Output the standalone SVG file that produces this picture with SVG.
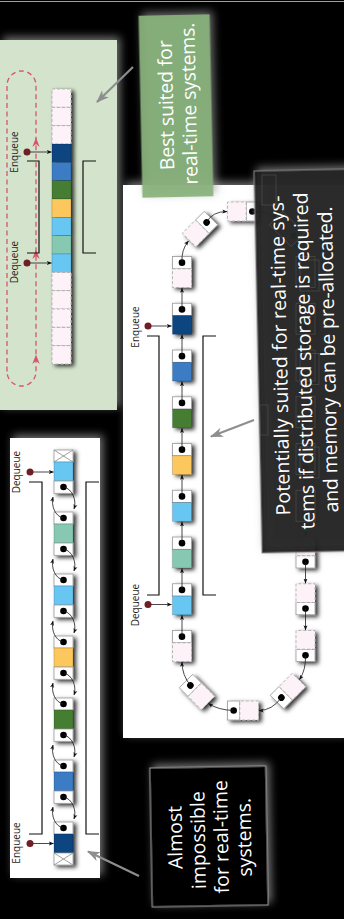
<svg xmlns="http://www.w3.org/2000/svg" xmlns:xlink="http://www.w3.org/1999/xlink" width="344" height="919" viewBox="0 0 344 919">
  <defs>
    <style>
      .lbl { font-family: "Open Sans", "Liberation Sans", sans-serif; font-size: 10px; fill: #1e1e1e; text-anchor: middle; }
      .cl { font-family: "Open Sans", "Liberation Sans", sans-serif; font-size: 19.5px; fill: #ffffff; text-anchor: middle; }
      .ptr { fill: #ffffff; stroke: #9a9a9a; stroke-width: 0.8; }
      .empty { fill: #fdf2f8; stroke: #a6a6a6; stroke-width: 0.8; stroke-dasharray: 3 2; }
      .data { stroke: rgba(0,0,0,0.25); stroke-width: 0.6; }
      .dot { fill: #000; }
      .c-dblue { fill: #0d4480; }
      .c-mblue { fill: #3b7bc4; }
      .c-green { fill: #457d32; }
      .c-yellow { fill: #fcc75c; }
      .c-lblue { fill: #67c6f2; }
      .c-teal { fill: #86c8b1; }
      .link { fill: none; stroke: #1a1a1a; stroke-width: 0.8; marker-end: url(#ah); }
      .bracket { fill: none; stroke: #111; stroke-width: 1.2; }
      .head { fill: #6d1f25; }
      .call { fill: none; stroke: #8e8e8e; stroke-width: 2.2; marker-end: url(#gh); }
      .loop { fill: none; stroke: #d4566c; stroke-width: 1.3; stroke-dasharray: 5 3.5; }
      .ghost { fill: none; stroke: #6c6c6c; stroke-width: 0.7; opacity: 0.55; }
    </style>
    <filter id="halo" x="-30%" y="-30%" width="160%" height="160%">
      <feGaussianBlur in="SourceAlpha" stdDeviation="4" result="b"/>
      <feOffset in="b" dx="3" dy="-3" result="o"/>
      <feFlood flood-color="#9a9a9a" flood-opacity="0.75"/>
      <feComposite in2="o" operator="in" result="g"/>
      <feMerge><feMergeNode in="g"/><feMergeNode in="SourceGraphic"/></feMerge>
    </filter>
    <filter id="shade" x="-60%" y="-60%" width="220%" height="220%">
      <feDropShadow dx="3" dy="2" stdDeviation="2" flood-color="#000" flood-opacity="0.8"/>
    </filter>
    <filter id="soft" x="-20%" y="-20%" width="140%" height="140%">
      <feGaussianBlur stdDeviation="0.4"/>
    </filter>
    <marker id="ah" viewBox="0 0 8 8" refX="7.5" refY="4" markerWidth="5" markerHeight="5" orient="auto" markerUnits="userSpaceOnUse">
      <path d="M0,0.8 L8,4 L0,7.2 L2,4 z" fill="#111"/>
    </marker>
    <marker id="gh" viewBox="0 0 12 10" refX="11" refY="5" markerWidth="13" markerHeight="11" orient="auto" markerUnits="userSpaceOnUse">
      <path d="M0,0.5 L12,5 L0,9.5 L3.5,5 z" fill="#8e8e8e"/>
    </marker>
    <!-- one list node: pointer cell on top, payload below, centred on the origin -->
    <g id="n-empty">
      <rect class="ptr" x="-9.5" y="-15.5" width="19" height="12.3"/>
      <rect class="empty" x="-9.5" y="-3.2" width="19" height="18.7"/>
      <circle class="dot" cx="0" cy="-9.35" r="3.3"/>
    </g>
  </defs>

  <!-- backdrop -->
  <rect x="0" y="0" width="344" height="919" fill="#000"/>
  <line x1="0" y1="1.5" x2="344" y2="1.5" stroke="#a0a0a0" stroke-width="1"/>

  <!-- ring buffer panel -->
  <g id="panel-ring">
    <rect x="0" y="40" width="117" height="370" fill="#d4e4cc" filter="url(#halo)"/>
    <path class="loop" d="M7,371.5 L7,85.5 A14.5,14.5 0 0 1 36,85.5 L36,371.5 A14.5,14.5 0 0 1 7,371.5 Z"/>
    <g fill="#d4566c">
      <path d="M32.3,147 L36,137.5 L39.7,147 L36,144 Z"/>
      <path d="M32.3,259 L36,249.5 L39.7,259 L36,256 Z"/>
      <path d="M32.3,364 L36,354.5 L39.7,364 L36,361 Z"/>
    </g>
    <g id="ring-array" filter="url(#shade)">
      <rect class="empty" x="52" y="89" width="19" height="18.33"/>
      <rect class="empty" x="52" y="107.33" width="19" height="18.33"/>
      <rect class="empty" x="52" y="125.67" width="19" height="18.33"/>
      <rect class="data c-dblue" x="52" y="144" width="19" height="18.33"/>
      <rect class="data c-mblue" x="52" y="162.33" width="19" height="18.33"/>
      <rect class="data c-green" x="52" y="180.67" width="19" height="18.33"/>
      <rect class="data c-yellow" x="52" y="199" width="19" height="18.33"/>
      <rect class="data c-lblue" x="52" y="217.33" width="19" height="18.33"/>
      <rect class="data c-teal" x="52" y="235.67" width="19" height="18.33"/>
      <rect class="data c-lblue" x="52" y="254" width="19" height="18.33"/>
      <rect class="empty" x="52" y="272.33" width="19" height="18.33"/>
      <rect class="empty" x="52" y="290.67" width="19" height="18.33"/>
      <rect class="empty" x="52" y="309" width="19" height="18.33"/>
      <rect class="empty" x="52" y="327.33" width="19" height="18.33"/>
      <rect class="empty" x="52" y="345.67" width="19" height="18.33"/>
    </g>
    <path class="bracket" d="M27,161 H39 V253 H27"/>
    <path class="bracket" d="M96,161 H83 V253 H96"/>
    <g id="ring-enqueue">
      <circle class="head" cx="27" cy="152" r="3.5"/>
      <text class="lbl" transform="translate(18,152) rotate(-90)">Enqueue</text>
    </g>
    <g id="ring-dequeue">
      <circle class="head" cx="27" cy="263" r="3.5"/>
      <text class="lbl" transform="translate(18,262) rotate(-90)">Dequeue</text>
    </g>
  </g>

  <!-- linked ring panel -->
  <g id="panel-linked">
    <rect x="123" y="185" width="221" height="553" fill="#ffffff" filter="url(#halo)"/>
    <path class="bracket" d="M147,336 H159 V595 H147"/>
    <path class="bracket" d="M216,336 H203 V595 H216"/>

    <!-- left column, payload below pointer -->
    <g filter="url(#shade)">
      <g id="l0" transform="translate(182,272)"><use xlink:href="#n-empty"/></g>
      <g id="l1" transform="translate(182,318.75)">
        <rect class="ptr" x="-9.5" y="-15.5" width="19" height="12.3"/>
        <rect class="data c-dblue" x="-9.5" y="-3.2" width="19" height="18.7"/>
        <circle class="dot" cx="0" cy="-9.35" r="3.3"/>
      </g>
      <g id="l2" transform="translate(182,365.5)">
        <rect class="ptr" x="-9.5" y="-15.5" width="19" height="12.3"/>
        <rect class="data c-mblue" x="-9.5" y="-3.2" width="19" height="18.7"/>
        <circle class="dot" cx="0" cy="-9.35" r="3.3"/>
      </g>
      <g id="l3" transform="translate(182,412.25)">
        <rect class="ptr" x="-9.5" y="-15.5" width="19" height="12.3"/>
        <rect class="data c-green" x="-9.5" y="-3.2" width="19" height="18.7"/>
        <circle class="dot" cx="0" cy="-9.35" r="3.3"/>
      </g>
      <g id="l4" transform="translate(182,459)">
        <rect class="ptr" x="-9.5" y="-15.5" width="19" height="12.3"/>
        <rect class="data c-yellow" x="-9.5" y="-3.2" width="19" height="18.7"/>
        <circle class="dot" cx="0" cy="-9.35" r="3.3"/>
      </g>
      <g id="l5" transform="translate(182,505.75)">
        <rect class="ptr" x="-9.5" y="-15.5" width="19" height="12.3"/>
        <rect class="data c-lblue" x="-9.5" y="-3.2" width="19" height="18.7"/>
        <circle class="dot" cx="0" cy="-9.35" r="3.3"/>
      </g>
      <g id="l6" transform="translate(182,552.5)">
        <rect class="ptr" x="-9.5" y="-15.5" width="19" height="12.3"/>
        <rect class="data c-teal" x="-9.5" y="-3.2" width="19" height="18.7"/>
        <circle class="dot" cx="0" cy="-9.35" r="3.3"/>
      </g>
      <g id="l7" transform="translate(182,599.25)">
        <rect class="ptr" x="-9.5" y="-15.5" width="19" height="12.3"/>
        <rect class="data c-lblue" x="-9.5" y="-3.2" width="19" height="18.7"/>
        <circle class="dot" cx="0" cy="-9.35" r="3.3"/>
      </g>
      <g id="l8" transform="translate(182,646)"><use xlink:href="#n-empty"/></g>
    </g>

    <!-- bends and right column -->
    <g filter="url(#shade)">
      <g id="t1" transform="translate(200,229) rotate(45)"><use xlink:href="#n-empty"/></g>
      <g id="t2" transform="translate(243,211.5) rotate(90)"><use xlink:href="#n-empty"/></g>
      <g id="t3" transform="translate(287,229) rotate(135)"><use xlink:href="#n-empty"/></g>
      <g id="r0" transform="translate(305.5,272) rotate(180)"><use xlink:href="#n-empty"/></g>
      <g id="r1" transform="translate(305.5,318.75) rotate(180)"><use xlink:href="#n-empty"/></g>
      <g id="r2" transform="translate(305.5,365.5) rotate(180)"><use xlink:href="#n-empty"/></g>
      <g id="r3" transform="translate(305.5,412.25) rotate(180)"><use xlink:href="#n-empty"/></g>
      <g id="r4" transform="translate(305.5,459) rotate(180)"><use xlink:href="#n-empty"/></g>
      <g id="r5" transform="translate(305.5,505.75) rotate(180)"><use xlink:href="#n-empty"/></g>
      <g id="r6" transform="translate(305.5,552.5) rotate(180)"><use xlink:href="#n-empty"/></g>
      <g id="r7" transform="translate(305.5,599.25) rotate(180)"><use xlink:href="#n-empty"/></g>
      <g id="r8" transform="translate(305.5,646) rotate(180)"><use xlink:href="#n-empty"/></g>
      <g id="b3" transform="translate(288,691) rotate(-135)"><use xlink:href="#n-empty"/></g>
      <g id="b2" transform="translate(243,710.5) rotate(-90)"><use xlink:href="#n-empty"/></g>
      <g id="b1" transform="translate(197,692) rotate(-45)"><use xlink:href="#n-empty"/></g>
    </g>

    <g id="linked-enqueue">
      <circle class="head" cx="148" cy="326" r="3.5"/>
      <text class="lbl" transform="translate(139,327) rotate(-90)">Enqueue</text>
    </g>
    <g id="linked-dequeue">
      <circle class="head" cx="148" cy="604.5" r="3.5"/>
      <text class="lbl" transform="translate(139,605) rotate(-90)">Dequeue</text>
    </g>
  </g>

  <!-- doubly linked list panel -->
  <g id="panel-list">
    <rect x="10" y="438" width="90" height="440" fill="#ffffff" filter="url(#halo)"/>
    <g filter="url(#shade)">
      <g id="end-top">
        <rect class="ptr" x="54" y="450" width="19" height="12"/>
        <path d="M54,450 L73,462 M73,450 L54,462" stroke="#888" stroke-width="0.8"/>
      </g>
      <g id="d0">
        <rect class="data c-lblue" x="54" y="462" width="19" height="19"/>
        <rect class="ptr" x="54" y="481" width="19" height="12.3"/>
        <circle class="dot" cx="63.5" cy="487" r="3.3"/>
      </g>
      <g id="d1">
        <rect class="ptr" x="54" y="512" width="19" height="12"/>
        <circle class="dot" cx="63.5" cy="518" r="3.3"/>
        <rect class="data c-teal" x="54" y="524" width="19" height="19"/>
        <rect class="ptr" x="54" y="543" width="19" height="12.3"/>
        <circle class="dot" cx="63.5" cy="549" r="3.3"/>
      </g>
      <g id="d2">
        <rect class="ptr" x="54" y="574" width="19" height="12"/>
        <circle class="dot" cx="63.5" cy="580" r="3.3"/>
        <rect class="data c-lblue" x="54" y="586" width="19" height="19"/>
        <rect class="ptr" x="54" y="605" width="19" height="12.3"/>
        <circle class="dot" cx="63.5" cy="611" r="3.3"/>
      </g>
      <g id="d3">
        <rect class="ptr" x="54" y="636" width="19" height="12"/>
        <circle class="dot" cx="63.5" cy="642" r="3.3"/>
        <rect class="data c-yellow" x="54" y="648" width="19" height="19"/>
        <rect class="ptr" x="54" y="667" width="19" height="12.3"/>
        <circle class="dot" cx="63.5" cy="673" r="3.3"/>
      </g>
      <g id="d4">
        <rect class="ptr" x="54" y="698" width="19" height="12"/>
        <circle class="dot" cx="63.5" cy="704" r="3.3"/>
        <rect class="data c-green" x="54" y="710" width="19" height="19"/>
        <rect class="ptr" x="54" y="729" width="19" height="12.3"/>
        <circle class="dot" cx="63.5" cy="735" r="3.3"/>
      </g>
      <g id="d5">
        <rect class="ptr" x="54" y="760" width="19" height="12"/>
        <circle class="dot" cx="63.5" cy="766" r="3.3"/>
        <rect class="data c-mblue" x="54" y="772" width="19" height="19"/>
        <rect class="ptr" x="54" y="791" width="19" height="12.3"/>
        <circle class="dot" cx="63.5" cy="797" r="3.3"/>
      </g>
      <g id="d6">
        <rect class="ptr" x="54" y="822" width="19" height="12"/>
        <circle class="dot" cx="63.5" cy="828" r="3.3"/>
        <rect class="data c-dblue" x="54" y="834" width="19" height="19"/>
      </g>
      <g id="end-bottom">
        <rect class="ptr" x="54" y="853" width="19" height="12"/>
        <path d="M54,853 L73,865 M73,853 L54,865" stroke="#888" stroke-width="0.8"/>
      </g>
    </g>
    <path class="bracket" d="M29,482 H42 V834 H29" stroke="#333"/>
    <path class="bracket" d="M99,482 H86 V834 H99"/>
    <g id="list-dequeue">
      <circle class="head" cx="30" cy="472" r="3.5"/>
      <text class="lbl" transform="translate(20,472) rotate(-90)">Dequeue</text>
    </g>
    <g id="list-enqueue">
      <circle class="head" cx="30" cy="843.5" r="3.5"/>
      <text class="lbl" transform="translate(20,843) rotate(-90)">Enqueue</text>
    </g>
  </g>

  <!-- connectors -->
  <g id="connectors">
    <!-- head pointers -->
    <path class="link" d="M30,152 H51.5"/>
    <path class="link" d="M30,263 H51.5"/>
    <path class="link" d="M151,326 H171.5"/>
    <path class="link" d="M151,604.5 H171.5"/>
    <path class="link" d="M33,472 H53.5"/>
    <path class="link" d="M33,843.5 H53.5"/>

    <!-- left column links -->
    <path class="link" d="M182,309.4 V288"/>
    <path class="link" d="M182,356.15 V334.75"/>
    <path class="link" d="M182,402.9 V381.5"/>
    <path class="link" d="M182,449.65 V428.25"/>
    <path class="link" d="M182,496.4 V475"/>
    <path class="link" d="M182,543.15 V521.75"/>
    <path class="link" d="M182,589.9 V568.5"/>
    <path class="link" d="M182,636.65 V615.25"/>
    <!-- top bend -->
    <path class="link" d="M182,262.6 Q181,250 188.5,241"/>
    <path class="link" d="M206.6,222.4 Q212,211.5 227,211.5"/>
    <path class="link" d="M252.4,211.5 Q268,211 276,217.5"/>
    <path class="link" d="M293.6,235.6 Q305.5,240 305.5,256"/>
    <!-- right column links -->
    <path class="link" d="M305.5,281.35 V302.75"/>
    <path class="link" d="M305.5,328.1 V349.5"/>
    <path class="link" d="M305.5,374.85 V396.25"/>
    <path class="link" d="M305.5,421.6 V443"/>
    <path class="link" d="M305.5,468.35 V489.75"/>
    <path class="link" d="M305.5,515.1 V536.5"/>
    <path class="link" d="M305.5,561.85 V583.25"/>
    <path class="link" d="M305.5,608.6 V630"/>
    <!-- bottom bend -->
    <path class="link" d="M305.5,655.4 Q306,670 299.5,679.5"/>
    <path class="link" d="M281.4,697.6 Q272,710.5 259,710.5"/>
    <path class="link" d="M233.6,710.5 Q218,710 208.5,703.5"/>
    <path class="link" d="M190.4,685.4 Q182,675 182,662"/>

    <!-- doubly linked pairs -->
    <path class="link" d="M64,487 C72,489 77,500 74,509"/>
    <path class="link" d="M63,518 C55,516 51,506 53,497"/>
    <path class="link" d="M64,549 C72,551 77,562 74,571"/>
    <path class="link" d="M63,580 C55,578 51,568 53,559"/>
    <path class="link" d="M64,611 C72,613 77,624 74,633"/>
    <path class="link" d="M63,642 C55,640 51,630 53,621"/>
    <path class="link" d="M64,673 C72,675 77,686 74,695"/>
    <path class="link" d="M63,704 C55,702 51,692 53,683"/>
    <path class="link" d="M64,735 C72,737 77,748 74,757"/>
    <path class="link" d="M63,766 C55,764 51,754 53,745"/>
    <path class="link" d="M64,797 C72,799 77,810 74,819"/>
    <path class="link" d="M63,828 C55,826 51,816 53,807"/>
  </g>

  <!-- callouts -->
  <g id="note-best" transform="rotate(-1.2 176 106)">
    <rect x="140.5" y="15" width="71" height="182" fill="rgb(136,178,123)" fill-opacity="0.92" filter="url(#halo)"/>
    <text class="cl" transform="translate(173,105) rotate(-90)" textLength="130">Best suited for</text>
    <text class="cl" transform="translate(196,104) rotate(-90)" textLength="162">real-time systems.</text>
  </g>

  <g id="note-potential" transform="rotate(-1.2 306 361)">
    <rect x="258" y="170" width="96" height="382" fill="#101010" fill-opacity="0.93" stroke="#8a8a8a" stroke-width="1" filter="url(#halo)"/>
  </g>
  <g id="hidden-outlines">
    <rect class="ghost" x="296" y="256.5" width="19" height="31"/>
    <rect class="ghost" x="296" y="303.25" width="19" height="31"/>
    <rect class="ghost" x="296" y="350" width="19" height="31"/>
    <rect class="ghost" x="296" y="396.75" width="19" height="31"/>
    <rect class="ghost" x="296" y="443.5" width="19" height="31"/>
    <rect class="ghost" x="296" y="490.25" width="19" height="31"/>
    <rect class="ghost" x="300" y="260" width="19" height="31"/>
    <rect class="ghost" x="300" y="353.5" width="19" height="31"/>
    <rect class="ghost" x="300" y="447" width="19" height="31"/>
    <rect class="ghost" x="262" y="175" width="14" height="30"/>
    <rect class="ghost" x="260" y="405" width="8" height="30"/>
    <rect class="ghost" x="-9.5" y="-15.5" width="19" height="31" transform="translate(287,229) rotate(135)"/>
  </g>
  <g id="note-potential-text" transform="rotate(-1.2 306 361)">
    <text class="cl" transform="translate(287,355) rotate(-90)" textLength="320">Potentially suited for real-time sys-</text>
    <text class="cl" transform="translate(311,361) rotate(-90)" textLength="337">tems if distributed storage is required</text>
    <text class="cl" transform="translate(335,360) rotate(-90)" textLength="306">and memory can be pre-allocated.</text>
  </g>

  <g id="note-impossible" transform="rotate(-1 209 837)">
    <rect x="151" y="767" width="116" height="139" fill="#000" stroke="#a0a0a0" stroke-width="1" filter="url(#halo)"/>
    <text class="cl" transform="translate(182,837) rotate(-90)">Almost</text>
    <text class="cl" transform="translate(205,840) rotate(-90)">impossible</text>
    <text class="cl" transform="translate(228,837) rotate(-90)">for real-time</text>
    <text class="cl" transform="translate(251,838) rotate(-90)">systems.</text>
  </g>

  <!-- callout pointers -->
  <g id="note-arrows">
    <path class="call" d="M133,67 L97,102"/>
    <path class="call" d="M254,420 L211,436.5"/>
    <path class="call" d="M139,876 L88,851.5"/>
  </g>
</svg>
